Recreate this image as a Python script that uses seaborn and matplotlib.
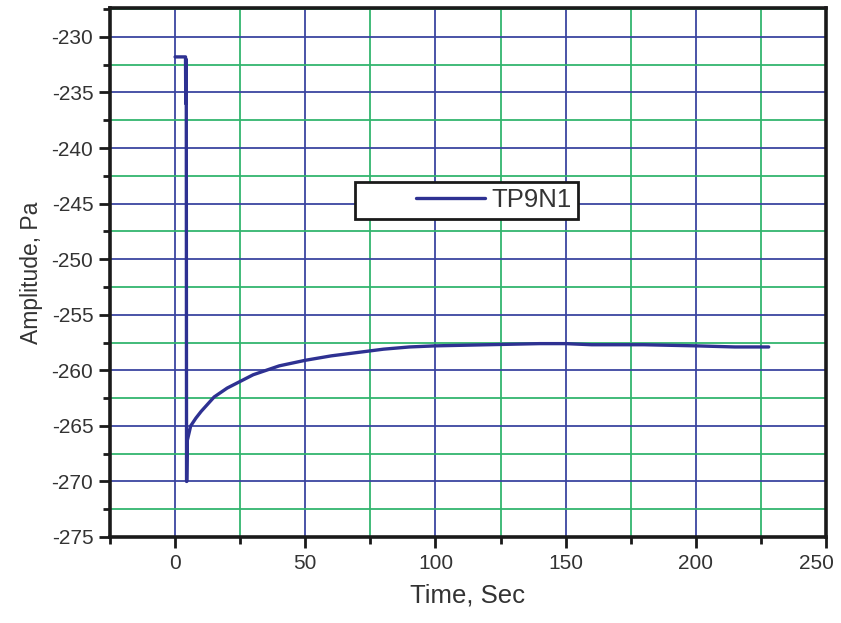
"""Pressure amplitude transient for probe TP9N1."""

import matplotlib

matplotlib.use("Agg")
import matplotlib.pyplot as plt
import matplotlib.transforms as mtransforms
import pandas as pd
import seaborn as sns
from matplotlib.legend_handler import HandlerLine2D
from matplotlib.ticker import MultipleLocator

time_sec = [0.0, 4.0, 4.1, 4.2, 4.3, 4.4, 4.5, 4.7, 6, 8, 10, 15, 20, 25, 30, 40,
            50, 60, 70, 80, 90, 100, 120, 140, 150, 160, 180, 200, 215, 228]
amplitude_pa = [-231.8, -231.8, -236.0, -232.0, -236.0, -270.0, -270.0, -266.3,
                -265.0, -264.3, -263.7, -262.4, -261.6, -261.0, -260.4, -259.6,
                -259.1, -258.7, -258.4, -258.1, -257.9, -257.8, -257.7, -257.6,
                -257.6, -257.7, -257.7, -257.8, -257.9, -257.9]
series_name = "TP9N1"

LINE_BLUE = "#2e3192"
GRID_BLUE = "#3b45a0"
GRID_GREEN = "#33b56e"
TEXT_GREY = "#333333"

sns.set_style("white")
plt.rcParams["font.family"] = ["Liberation Sans", "DejaVu Sans"]
plt.rcParams["axes.unicode_minus"] = False

df = pd.DataFrame({"time": time_sec, "amp": amplitude_pa, "series": series_name})

fig = plt.figure(figsize=(8.41, 6.23), dpi=100)
ax = fig.add_axes([110 / 841, 1 - 537 / 623, 716 / 841, 529 / 623])

sns.lineplot(data=df, x="time", y="amp", hue="series", palette=[LINE_BLUE],
             sort=False, estimator=None, linewidth=2.4, ax=ax)

ax.set_xlim(-25, 250)
ax.set_ylim(-275, -227.4)
ax.xaxis.set_major_locator(MultipleLocator(50))
ax.xaxis.set_minor_locator(MultipleLocator(25))
ax.yaxis.set_major_locator(MultipleLocator(5))
ax.yaxis.set_minor_locator(MultipleLocator(2.5))

ax.grid(which="major", color=GRID_BLUE, linewidth=1.3)
ax.grid(which="minor", color=GRID_GREEN, linewidth=1.3)
ax.set_axisbelow(True)

for spine in ax.spines.values():
    spine.set_color("#1a1a1a")
    spine.set_linewidth(2.6)
ax.tick_params(which="major", direction="out", length=8, width=2,
               color="#1a1a1a", labelsize=15, labelcolor=TEXT_GREY, pad=4)
ax.tick_params(which="minor", direction="out", length=5, width=2, color="#1a1a1a")
ax.tick_params(axis="both", which="both", bottom=True, left=True)

# last x label sits a little left of its tick so it stays inside the figure
fig.canvas.draw()
last_label = [t for t in ax.get_xticklabels() if t.get_text() == "250"]
for lbl in last_label:
    lbl.set_transform(lbl.get_transform()
                      + mtransforms.ScaledTranslation(-7 / 72, 0, fig.dpi_scale_trans))

ax.set_xlabel("Time, Sec", fontsize=18.5, color=TEXT_GREY, labelpad=8)
ax.set_ylabel("Amplitude, Pa", fontsize=16.5, color=TEXT_GREY, labelpad=6)

# the original legend leaves a wide gap before the line sample
leg = ax.legend(loc="upper left", bbox_to_anchor=(0.342, 0.671), fontsize=18.5,
                frameon=True, fancybox=False, handlelength=4.81, handletextpad=0.25,
                borderpad=0.25, borderaxespad=0, labelcolor=TEXT_GREY,
                handler_map={plt.Line2D: HandlerLine2D(xpad=2.12)})
leg.get_frame().set_edgecolor("#1a1a1a")
leg.get_frame().set_linewidth(2)
leg.get_frame().set_alpha(1)

fig.savefig("out.png", dpi=100)
